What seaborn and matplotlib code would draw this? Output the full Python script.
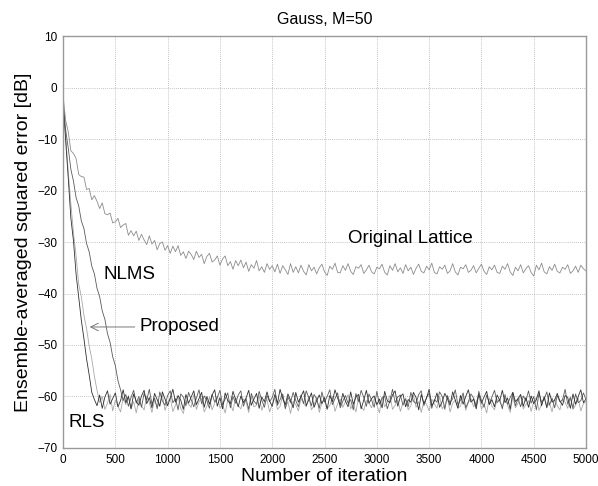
import numpy as np
import pandas as pd
import matplotlib
matplotlib.use("Agg")
import matplotlib.pyplot as plt
import seaborn as sns

iterations = np.arange(0, 5001, 25)

lattice = [
    -1.5, -6.4, -8.6, -12.3, -12.8, -13.8, -16.9, -17.3, -17.4, -19.8,
    -19.6, -21.8, -21.0, -22.1, -23.5, -22.4, -24.5, -24.7, -24.4, -26.3,
    -26.1, -25.4, -27.2, -26.7, -26.4, -28.7, -27.8, -28.8, -27.9, -29.7,
    -28.5, -29.6, -30.5, -28.8, -30.4, -29.7, -31.5, -30.3, -30.0, -31.6,
    -30.7, -32.2, -30.8, -31.9, -30.7, -32.6, -31.9, -33.2, -31.8, -32.4,
    -33.4, -31.8, -33.0, -32.4, -34.2, -32.8, -32.2, -33.9, -33.5, -32.7,
    -34.5, -33.3, -32.7, -34.6, -33.8, -35.3, -33.6, -34.6, -33.5, -35.0,
    -33.9, -35.7, -34.4, -35.1, -33.6, -35.6, -34.8, -35.9, -34.2, -35.3,
    -34.6,
    -35.8, -34.3, -36.1, -34.6, -35.4, -36.3, -34.2, -35.9, -34.8, -36.0,
    -34.5, -35.7, -36.4, -34.4, -35.6, -34.9, -36.2, -35.0, -34.3, -35.8,
    -36.5, -34.7, -35.3, -34.1, -35.9, -36.0, -34.6, -35.5, -34.2, -35.7,
    -36.3, -34.8, -35.1, -34.4, -36.1, -35.4, -34.5, -35.8, -36.2, -34.9,
    -35.2, -34.3, -35.9, -36.4, -34.6, -35.5, -34.2, -35.8, -35.0, -36.1,
    -34.4, -35.6, -34.9, -36.3, -35.1, -34.3, -35.7, -36.0, -34.7, -35.4,
    -34.1, -35.9, -36.2, -34.8, -35.3, -34.5, -36.1, -35.6, -34.2, -35.8,
    -36.4, -34.9, -35.2, -34.4, -35.9, -35.5, -34.6, -36.0, -35.1, -34.3,
    -35.7, -36.3, -34.8, -35.4, -34.5, -35.9, -36.1, -34.7, -35.3, -34.2,
    -35.8, -36.5, -34.9, -35.6, -34.4, -36.0, -35.2, -34.6, -35.9, -36.6,
    -34.5, -35.4, -34.1, -35.8, -36.2, -34.8, -35.5, -34.3, -35.7, -36.0,
    -34.9, -35.3, -34.4, -36.1, -35.6, -34.7, -35.9, -34.5, -35.2, -35.6,
]

nlms = [
    -3.0, -8.2, -11.8, -15.9, -18.2, -21.4, -23.0, -25.9, -27.4, -30.3,
    -31.9, -34.7, -36.2, -39.0, -40.6, -43.4, -45.0, -47.8, -49.5, -52.3,
    -54.0, -56.9, -58.7, -60.8, -59.6, -61.9, -60.2, -58.8, -61.3, -60.0,
    -62.1, -59.4, -60.7, -58.6, -61.5, -60.3, -62.4, -59.1, -60.9, -61.7,
    -59.8, -58.9, -61.2, -60.4, -62.6, -59.5, -60.1, -61.8, -59.2, -60.6,
    -62.0, -60.3, -58.7, -61.4, -59.9, -60.8, -62.3, -59.6, -61.1, -60.2,
    -58.8, -61.6, -60.5, -59.3, -62.2, -60.0, -61.3, -59.7, -58.9, -61.9,
    -60.4, -62.5, -59.4, -60.9, -61.5, -59.0, -60.7, -62.1, -59.8, -61.0,
    -60.2, -58.6, -61.7, -60.6, -59.5, -62.4, -60.1, -61.2, -59.2, -60.8,
    -62.0, -59.7, -61.4, -58.9, -60.3, -61.8, -59.6, -60.5, -62.3, -59.1,
    -61.1, -60.0, -58.7, -61.6, -60.4, -59.3, -62.2, -60.9, -59.8, -61.3,
    -60.6, -62.6, -59.4, -61.0, -58.8, -60.2, -61.9, -59.5, -60.7, -62.1,
    -59.0, -61.5, -60.3, -59.9, -62.4, -60.8, -58.6, -61.2, -60.1, -59.7,
    -61.7, -60.5, -62.0, -59.2, -60.9, -61.4, -59.6, -58.9, -61.8, -60.2,
    -59.4, -62.3, -60.6, -61.1, -59.1, -60.0, -62.5, -59.8, -61.3, -60.4,
    -58.7, -61.6, -60.7, -59.3, -62.2, -61.0, -59.5, -60.3, -61.9, -59.0,
    -60.8, -62.1, -59.7, -61.4, -60.1, -58.8, -61.2, -60.6, -62.4, -59.6,
    -61.5, -60.2, -59.2, -61.8, -60.4, -62.0, -59.9, -60.9, -58.9, -61.3,
    -60.0, -62.6, -59.4, -61.1, -60.5, -59.1, -61.7, -60.3, -62.2, -59.8,
    -61.0, -60.7, -58.6, -61.5, -60.2, -62.3, -59.5, -61.2, -60.8, -59.3,
    -60.6,
]

rls = [
    -2.5, -10.3, -17.6, -25.4, -29.8, -36.3, -40.7, -45.2, -48.8, -52.7,
    -55.8, -59.2, -60.6, -61.8, -59.7, -62.3, -60.1, -58.9, -61.5, -60.4,
    -59.3, -62.0, -60.8, -58.7, -61.2, -60.0, -62.4, -59.5, -60.9, -61.7,
    -59.9, -58.8, -61.4, -60.2, -62.2, -59.4, -60.6, -61.9, -59.1, -60.5,
    -61.8, -60.3, -58.6, -61.1, -59.8, -60.7, -62.5, -59.6, -61.3, -60.1,
    -58.9, -61.6, -60.4, -59.2, -62.1, -60.0, -61.5, -59.7, -58.7, -61.9,
    -60.2, -62.4, -59.3, -60.8, -61.4, -59.0, -60.6, -62.0, -59.9, -61.2,
    -60.3, -58.8, -61.7, -60.5, -59.4, -62.3, -60.1, -61.0, -59.1, -60.9,
    -61.9, -59.6, -61.3, -58.6, -60.4, -61.6, -59.5, -60.7, -62.2, -59.2,
    -61.1, -60.0, -58.9, -61.8, -60.6, -59.3, -62.1, -60.8, -59.7, -61.4,
    -60.2, -62.5, -59.8, -61.0, -58.7, -60.3, -61.7, -59.4, -60.9, -62.0,
    -59.1, -61.5, -60.1, -59.6, -62.4, -60.7, -58.8, -61.3, -60.4, -59.9,
    -61.6, -60.5, -62.2, -59.0, -60.8, -61.2, -59.7, -58.9, -61.9, -60.0,
    -59.5, -62.0, -60.6, -61.1, -59.2, -60.2, -62.6, -59.6, -61.4, -60.3,
    -58.6, -61.8, -60.9, -59.3, -62.1, -61.0, -59.4, -60.4, -61.7, -59.1,
    -60.7, -62.3, -59.8, -61.5, -60.0, -58.7, -61.1, -60.5, -62.4, -59.5,
    -61.3, -60.1, -59.0, -61.6, -60.6, -62.0, -59.7, -60.8, -58.8, -61.2,
    -60.3, -62.5, -59.2, -61.0, -60.4, -59.6, -61.9, -60.2, -62.1, -59.9,
    -61.4, -60.6, -58.9, -61.8, -60.1, -62.2, -59.3, -61.1, -60.7, -59.4,
    -60.9, -61.7, -59.8, -60.2, -62.3, -59.5, -61.5, -60.0, -58.7, -61.2,
    -60.5,
]

proposed = [
    -3.5, -9.2, -16.4, -22.6, -28.3, -32.7, -38.2, -40.6, -44.3, -46.8,
    -50.2, -52.7, -56.1, -58.8, -61.2, -60.0, -62.5, -61.3, -59.6, -62.8,
    -60.7, -61.9, -63.0, -60.2, -61.6, -59.8, -62.4, -61.0, -63.2, -60.5,
    -61.8, -62.6, -59.9, -61.2, -63.1, -60.6, -62.0, -61.4, -59.7, -62.7,
    -61.1, -60.3, -62.9, -61.7, -60.0, -62.3, -63.3, -60.8, -61.5, -62.1,
    -59.6, -62.5, -61.0, -60.4, -63.0, -61.9, -60.1, -62.6, -61.3, -59.9,
    -62.2, -61.6, -63.2, -60.7, -61.4, -62.8, -60.2, -61.8, -62.4, -60.5,
    -61.1, -63.1, -60.0, -62.0, -61.7, -59.8, -62.7, -61.2, -60.6, -63.0,
    -61.5, -60.3, -62.5, -61.9, -59.7, -62.2, -61.0, -63.3, -60.9, -61.6,
    -62.8, -60.4, -61.3, -62.0, -59.9, -62.6, -61.7, -60.1, -63.1, -61.2,
    -60.7, -62.3, -61.8, -60.0, -62.9, -61.4, -60.5, -62.1, -61.0, -59.6,
    -62.4, -61.5, -63.0, -60.2, -61.9, -62.7, -60.8, -61.3, -62.2, -60.4,
    -61.6, -63.2, -60.1, -62.0, -61.1, -59.8, -62.5, -61.7, -60.6, -62.9,
    -61.2, -60.3, -62.6, -61.8, -59.7, -62.1, -61.0, -63.1, -60.9, -61.5,
    -62.8, -60.5, -61.4, -62.3, -60.0, -62.4, -61.6, -60.2, -63.0, -61.3,
    -60.7, -62.2, -61.9, -59.9, -62.7, -61.2, -60.4, -62.0, -61.1, -59.7,
    -62.5, -61.4, -63.2, -60.3, -61.8, -62.6, -60.6, -61.0, -62.1, -60.1,
    -61.7, -63.1, -60.0, -62.2, -61.3, -59.8, -62.4, -61.6, -60.8, -62.9,
    -61.0, -60.2, -62.7, -61.5, -59.9, -62.0, -61.2, -63.0, -60.5, -61.8,
    -62.6, -60.4, -61.1, -62.3, -60.1, -62.5, -61.7, -60.3, -62.8, -61.4,
    -61.0,
]

x_ticks = [0, 500, 1000, 1500, 2000, 2500, 3000, 3500, 4000, 4500, 5000]
y_ticks = [-70, -60, -50, -40, -30, -20, -10, 0, 10]

sns.set_style("white")
plt.rcParams["font.family"] = ["Liberation Sans", "DejaVu Sans"]
plt.rcParams["text.color"] = "black"
plt.rcParams["axes.labelcolor"] = "black"

fig = plt.figure(figsize=(5.98, 4.86), dpi=100)
ax = fig.add_axes([0.1054, 0.0782, 0.8746, 0.8477])

line_kw = dict(estimator=None, sort=False, ax=ax, linewidth=0.6)
sns.lineplot(x=iterations, y=lattice, color="#8c8c8c", **line_kw)
sns.lineplot(x=iterations, y=proposed, color="#a8a8a8", **line_kw)
sns.lineplot(x=iterations, y=nlms, color="#5a5a5a", **line_kw)
sns.lineplot(x=iterations, y=rls, color="#303030", **line_kw)

ax.set_xlim(0, 5000)
ax.set_ylim(-70, 10)
ax.set_xticks(x_ticks)
ax.set_yticks(y_ticks)
ax.set_xticklabels([str(v) for v in x_ticks], fontsize=8.5)
ax.set_yticklabels([str(v).replace("-", "\u2212") for v in y_ticks], fontsize=8.5)
ax.tick_params(length=0, pad=4, colors="black")
ax.grid(True, linestyle=(0, (1, 1.5)), color="#b0b0b0", linewidth=0.6)
for s in ax.spines.values():
    s.set_color("#9a9a9a")
    s.set_linewidth(1.0)

ax.set_title("Gauss, M=50", fontsize=11.5, pad=9, color="black")
ax.set_xlabel("Number of iteration", fontsize=14, labelpad=2)
ax.set_ylabel("Ensemble-averaged squared error [dB]", fontsize=14, labelpad=4)

ax.text(2720, -29.3, "Original Lattice", fontsize=13.5, va="center", ha="left")
ax.text(390, -36.4, "NLMS", fontsize=13.5, va="center", ha="left")
ax.text(55, -65.0, "RLS", fontsize=13.5, va="center", ha="left")
ax.annotate("Proposed", xy=(255, -46.5), xytext=(730, -46.5), fontsize=13.5,
            va="center", ha="left",
            arrowprops=dict(arrowstyle="->", color="#777777", lw=0.7,
                            shrinkA=1, shrinkB=0))

fig.savefig("out.png", dpi=100)
